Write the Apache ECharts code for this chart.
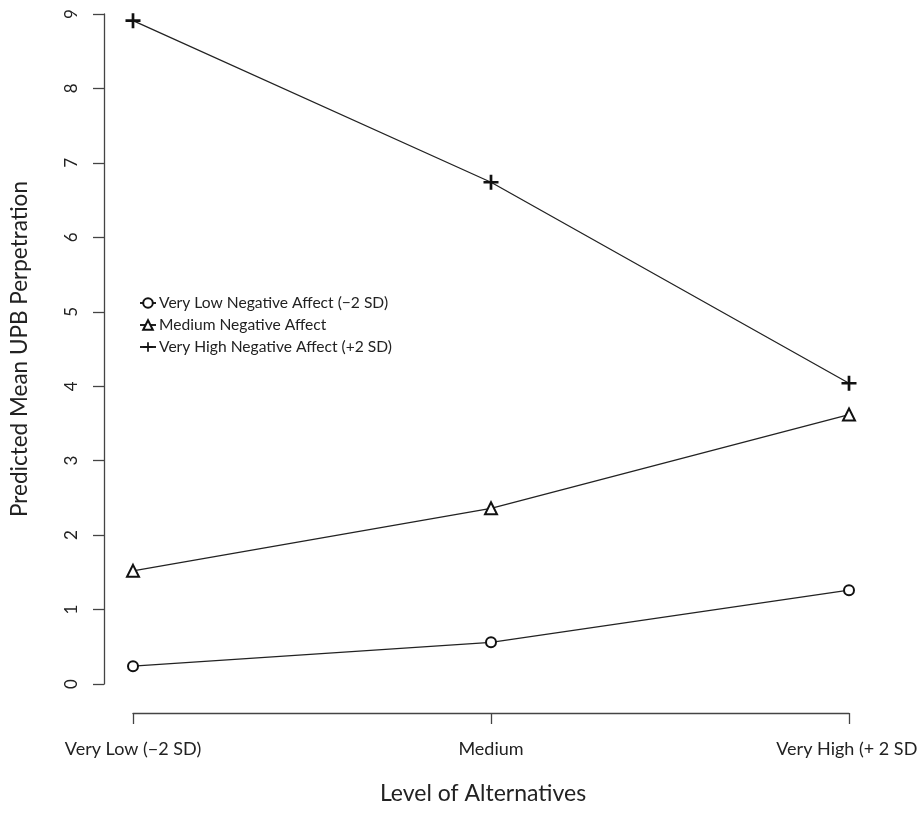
<!DOCTYPE html>
<html>
<head>
<meta charset="utf-8">
<script src="https://cdn.jsdelivr.net/npm/echarts@6/dist/echarts.min.js"></script>
<style>html,body{margin:0;padding:0;background:#fff}#c{width:917px;height:814px}</style>
</head>
<body>
<div id="c"></div>
<script>
const categories = ['Very Low (\u22122 SD)', 'Medium', 'Very High (+ 2 SD)'];
const seriesNames = ['Very Low Negative Affect (\u22122 SD)', 'Medium Negative Affect', 'Very High Negative Affect (+2 SD)'];
const lowNA = [0.24, 0.56, 1.26];
const medNA = [1.52, 2.36, 3.62];
const highNA = [8.91, 6.74, 4.04];
const yTicks = [0, 1, 2, 3, 4, 5, 6, 7, 8, 9];

const FONT = 'Lato';
const plusPath = 'path://M4.1,0H5.9V4.1H10V5.9H5.9V10H4.1V5.9H0V4.1H4.1Z';
const lineStyle = { color: '#222', width: 1.3 };

function mk(name, data, symbol, size) {
  return {
    name: name, type: 'line', data: data, symbol: symbol, symbolSize: size,
    clip: false,
    lineStyle: lineStyle,
    itemStyle: symbol === plusPath ? { color: '#111', borderWidth: 0 } : { color: '#111', borderColor: '#111', borderWidth: 2.2 },
    emphasis: { disabled: true }
  };
}

const chart = echarts.init(document.getElementById('c'));
chart.setOption({
  animation: false,
  backgroundColor: '#fff',
  textStyle: { fontFamily: FONT },
  grid: { left: 133, right: 68, top: 14, bottom: 130, containLabel: false, outerBoundsMode: 'none' },
  legend: {
    orient: 'vertical', left: 134, top: 290, itemGap: 6, itemWidth: 16, itemHeight: 12,
    data: seriesNames,
    textStyle: { fontFamily: FONT, fontSize: 15.6, color: '#222', padding: [0, 0, 0, -2] },
    inactiveColor: '#222'
  },
  xAxis: {
    type: 'category', data: categories, boundaryGap: false, offset: 29,
    axisLine: { onZero: false, lineStyle: { color: '#444', width: 1.3 } },
    axisTick: { length: 11, lineStyle: { color: '#444', width: 1.3 } },
    axisLabel: { margin: 27, fontSize: 18, color: '#222', fontFamily: FONT, interval: 0, showMaxLabel: true, showMinLabel: true },
    splitLine: { show: false },
    name: 'Level of Alternatives', nameLocation: 'middle', nameGap: 69,
    nameTextStyle: { fontSize: 23, color: '#222', fontFamily: FONT, padding: [0, 16, 0, 0] }
  },
  yAxis: {
    type: 'value', min: yTicks[0], max: yTicks[yTicks.length - 1], interval: 1, offset: 29,
    axisLine: { show: true, onZero: false, lineStyle: { color: '#444', width: 1.3 } },
    axisTick: { show: true, length: 11, lineStyle: { color: '#444', width: 1.3 } },
    axisLabel: { rotate: 90, margin: 24, fontSize: 17, color: '#222', fontFamily: FONT },
    splitLine: { show: false },
    name: 'Predicted Mean UPB Perpetration', nameLocation: 'middle', nameGap: 73,
    nameTextStyle: { fontSize: 22.5, color: '#222', fontFamily: FONT }
  },
  series: [
    mk(seriesNames[0], lowNA, 'emptyCircle', 10),
    mk(seriesNames[1], medNA, 'emptyTriangle', 12),
    mk(seriesNames[2], highNA, plusPath, 15)
  ]
});
</script>
</body>
</html>
